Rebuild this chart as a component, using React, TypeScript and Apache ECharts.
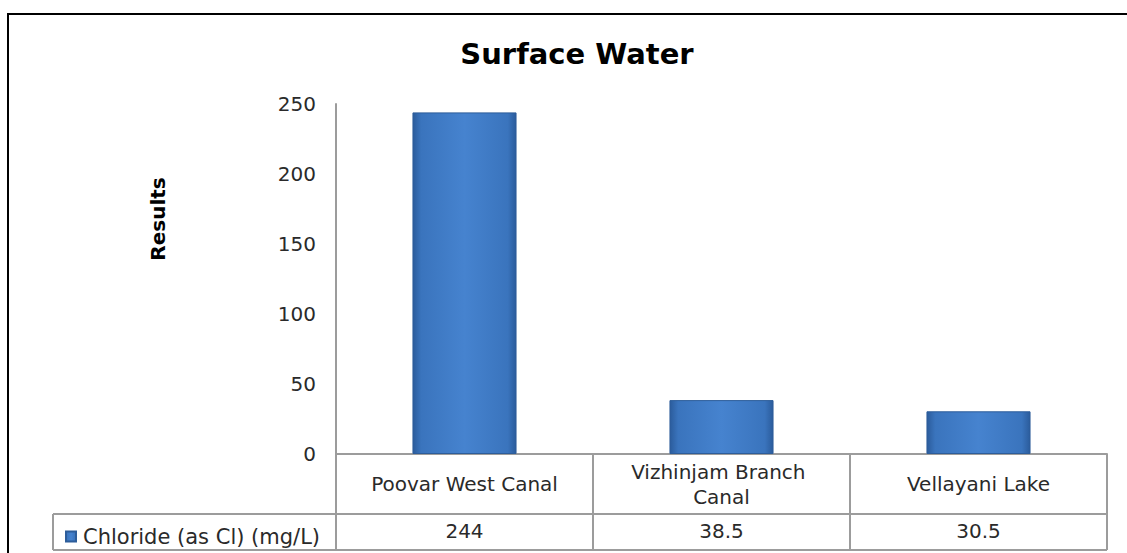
import React, { useEffect, useRef } from "react";
import * as echarts from "echarts";

const titleText = "Surface Water";
const yAxisTitle = "Results";
const seriesName = "Chloride (as Cl) (mg/L)";
const categories = ["Poovar West Canal", "Vizhinjam Branch Canal", "Vellayani Lake"];
const values = [244, 38.5, 30.5];
const yTicks = { min: 0, max: 250, interval: 50 };

const W = 1127;
const H = 553;
const GRID_LEFT = 336;
const GRID_RIGHT_X = 1107;
const GRID_TOP = 104;
const GRID_BOTTOM_Y = 454;
const ROW1_BOTTOM = 514;
const ROW2_BOTTOM = 550;
const LEGEND_LEFT = 53;
const FONT = "'DejaVu Sans', Verdana, sans-serif";
const LINE = "#9c9c9c";
const TXT = "#2a2a2a";

export default function App() {
  const ref = useRef<HTMLDivElement>(null);
  useEffect(() => {
    document.body.style.margin = "0";
    const chart = echarts.init(ref.current!, null, { renderer: "svg" });
    const n = categories.length;
    const colW = (GRID_RIGHT_X - GRID_LEFT) / n;
    const lines: any[] = [];
    const addLine = (x1: number, y1: number, x2: number, y2: number) =>
      lines.push({
        type: "line",
        shape: { x1, y1, x2, y2 },
        style: { stroke: LINE, lineWidth: 2 },
        silent: true,
      });
    addLine(LEGEND_LEFT, ROW1_BOTTOM, GRID_RIGHT_X, ROW1_BOTTOM);
    addLine(LEGEND_LEFT, ROW2_BOTTOM, GRID_RIGHT_X, ROW2_BOTTOM);
    addLine(LEGEND_LEFT, ROW1_BOTTOM, LEGEND_LEFT, ROW2_BOTTOM);
    addLine(GRID_LEFT, GRID_BOTTOM_Y, GRID_LEFT, ROW2_BOTTOM);
    for (let i = 1; i <= n; i++) {
      const x = GRID_LEFT + colW * i;
      addLine(x, GRID_BOTTOM_Y, x, ROW2_BOTTOM);
    }

    const option: any = {
      animation: false,
      backgroundColor: "#ffffff",
      title: {
        text: titleText,
        left: 572,
        textAlign: "center",
        top: 34,
        textStyle: { fontFamily: FONT, fontSize: 29, fontWeight: "bold", color: "#000" },
      },
      legend: {
        left: LEGEND_LEFT + 7,
        top: 521,
        icon: "rect",
        itemWidth: 10,
        itemHeight: 10,
        itemGap: 4,
        textStyle: { fontFamily: FONT, fontSize: 21, color: TXT, padding: [0, 0, 0, 2] },
        data: [seriesName],
      },
      grid: {
        left: GRID_LEFT,
        right: W - GRID_RIGHT_X,
        top: GRID_TOP,
        bottom: H - GRID_BOTTOM_Y,
        containLabel: false,
      },
      xAxis: [
        {
          type: "category",
          data: categories,
          position: "bottom",
          axisLine: { show: true, lineStyle: { color: LINE, width: 2 } },
          axisTick: { show: false },
          axisLabel: {
            fontFamily: FONT,
            fontSize: 20,
            color: TXT,
            margin: 30,
            verticalAlign: "middle",
            width: 225,
            overflow: "break",
            lineHeight: 25,
            interval: 0,
          },
        },
        {
          type: "category",
          data: values.map((v) => String(v)),
          position: "bottom",
          offset: ROW1_BOTTOM - GRID_BOTTOM_Y,
          axisLine: { show: false },
          axisTick: { show: false },
          axisLabel: {
            fontFamily: FONT,
            fontSize: 20,
            color: TXT,
            margin: 17,
            verticalAlign: "middle",
            interval: 0,
          },
        },
      ],
      yAxis: {
        type: "value",
        min: yTicks.min,
        max: yTicks.max,
        interval: yTicks.interval,
        axisLine: { show: true, lineStyle: { color: LINE, width: 2 } },
        axisTick: { show: false },
        splitLine: { show: false },
        axisLabel: { fontFamily: FONT, fontSize: 20, color: TXT, margin: 20 },
      },
      series: [
        {
          name: seriesName,
          type: "bar",
          xAxisIndex: 0,
          data: values,
          barWidth: "40.5%",
          itemStyle: {
            color: new echarts.graphic.LinearGradient(0, 0, 1, 0, [
              { offset: 0, color: "#2b5c9c" },
              { offset: 0.08, color: "#3a74bd" },
              { offset: 0.5, color: "#4683cf" },
              { offset: 0.92, color: "#3a74bd" },
              { offset: 1, color: "#2b5c9c" },
            ]),
            borderColor: "#2d5d9a",
            borderWidth: 1,
          },
        },
      ],
      graphic: [
        {
          type: "rect",
          shape: { x: 8, y: 14, width: 1300, height: 700 },
          style: { fill: "none", stroke: "#000", lineWidth: 2 },
          silent: true,
        },
        {
          type: "text",
          x: 158,
          y: 219,
          rotation: Math.PI / 2,
          style: {
            text: yAxisTitle,
            fontFamily: FONT,
            fontSize: 20,
            fontWeight: "bold",
            fill: "#000",
            align: "center",
            verticalAlign: "middle",
          },
          silent: true,
        },
        ...lines,
      ],
    };
    chart.setOption(option);
    return () => chart.dispose();
  }, []);
  return <div ref={ref} style={{ width: W, height: H, overflow: "hidden" }} />;
}
